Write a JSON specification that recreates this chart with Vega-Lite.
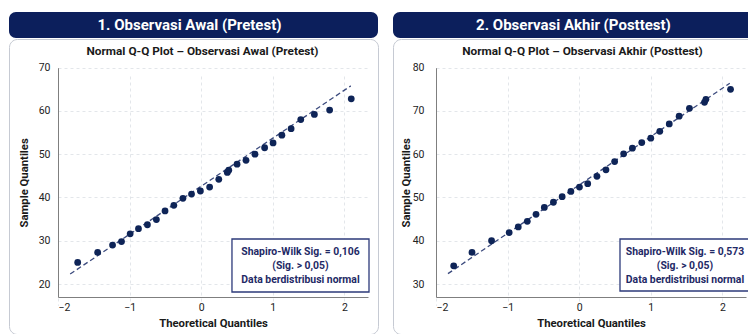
{
  "$schema": "https://vega.github.io/schema/vega-lite/v6.json",
  "padding": {"left": 8, "top": 12, "right": 0, "bottom": 0},
  "background": "white",
  "spacing": 13,
  "config": {"font": "Roboto", "view": {"stroke": null}},
  "datasets": {
    "pre": [
      {"theoretical": -1.725, "sample": 25.0},
      {"theoretical": -1.446, "sample": 27.3},
      {"theoretical": -1.238, "sample": 29.0},
      {"theoretical": -1.113, "sample": 29.8},
      {"theoretical": -0.992, "sample": 31.6},
      {"theoretical": -0.876, "sample": 32.8},
      {"theoretical": -0.751, "sample": 33.7},
      {"theoretical": -0.626, "sample": 34.9},
      {"theoretical": -0.505, "sample": 36.9},
      {"theoretical": -0.382, "sample": 38.2},
      {"theoretical": -0.255, "sample": 39.8},
      {"theoretical": -0.135, "sample": 40.8},
      {"theoretical": -0.011, "sample": 41.5},
      {"theoretical": 0.118, "sample": 42.4},
      {"theoretical": 0.246, "sample": 44.2},
      {"theoretical": 0.365, "sample": 45.8},
      {"theoretical": 0.385, "sample": 46.3},
      {"theoretical": 0.501, "sample": 47.7},
      {"theoretical": 0.626, "sample": 48.6},
      {"theoretical": 0.751, "sample": 50.0},
      {"theoretical": 0.886, "sample": 51.5},
      {"theoretical": 1.004, "sample": 52.6},
      {"theoretical": 1.127, "sample": 54.4},
      {"theoretical": 1.256, "sample": 55.9},
      {"theoretical": 1.391, "sample": 58.0},
      {"theoretical": 1.581, "sample": 59.2},
      {"theoretical": 1.794, "sample": 60.2},
      {"theoretical": 2.096, "sample": 62.8}
    ],
    "pre_fit": [
      {"theoretical": -1.83, "sample": 22.3},
      {"theoretical": 2.09, "sample": 65.8}
    ],
    "post": [
      {"theoretical": -1.753, "sample": 34.2},
      {"theoretical": -1.497, "sample": 37.3},
      {"theoretical": -1.224, "sample": 40.0},
      {"theoretical": -0.978, "sample": 41.9},
      {"theoretical": -0.851, "sample": 43.2},
      {"theoretical": -0.725, "sample": 44.5},
      {"theoretical": -0.603, "sample": 46.1},
      {"theoretical": -0.487, "sample": 47.7},
      {"theoretical": -0.36, "sample": 48.9},
      {"theoretical": -0.238, "sample": 50.2},
      {"theoretical": -0.116, "sample": 51.4},
      {"theoretical": 0.004, "sample": 52.4},
      {"theoretical": 0.119, "sample": 53.2},
      {"theoretical": 0.248, "sample": 54.9},
      {"theoretical": 0.374, "sample": 56.4},
      {"theoretical": 0.495, "sample": 58.3},
      {"theoretical": 0.621, "sample": 60.1},
      {"theoretical": 0.743, "sample": 61.4},
      {"theoretical": 0.874, "sample": 62.7},
      {"theoretical": 1.0, "sample": 63.7},
      {"theoretical": 1.126, "sample": 65.3},
      {"theoretical": 1.258, "sample": 67.0},
      {"theoretical": 1.396, "sample": 68.8},
      {"theoretical": 1.54, "sample": 70.6},
      {"theoretical": 1.75, "sample": 72.0},
      {"theoretical": 1.77, "sample": 72.7},
      {"theoretical": 2.114, "sample": 75.0}
    ],
    "post_fit": [
      {"theoretical": -1.833, "sample": 32.4},
      {"theoretical": 2.104, "sample": 76.4}
    ],
    "pre_note": [{"note": "Shapiro-Wilk Sig. = 0,106\n(Sig. > 0,05)\nData berdistribusi normal", "title": "Normal Q-Q Plot – Observasi Awal (Pretest)"}],
    "post_note": [{"note": "Shapiro-Wilk Sig. = 0,573\n(Sig. > 0,05)\nData berdistribusi normal", "title": "Normal Q-Q Plot – Observasi Akhir (Posttest)"}],
    "pre_head": [{"panel": "1. Observasi Awal (Pretest)"}],
    "post_head": [{"panel": "2. Observasi Akhir (Posttest)"}]
  },
  "hconcat": [
    {
      "vconcat": [
        {
          "width": 369, "height": 26,
          "view": {"fill": "#0c1f5c", "stroke": null, "cornerRadius": 7},
          "data": {"name": "pre_head"},
          "mark": {"type": "text", "color": "white", "fontSize": 15, "fontWeight": "bold", "dx": -4},
          "encoding": {"text": {"field": "panel"}}
        },
        {
          "width": 369, "height": 295,
          "view": {"fill": "white", "stroke": "#c6cad3", "strokeWidth": 1, "cornerRadius": 8},
          "layer": [
            {
              "data": {"name": "pre_fit"},
              "mark": {"type": "line", "strokeDash": [5, 3], "color": "#3b4a7d", "strokeWidth": 1.3},
              "encoding": {
                "x": {"field": "theoretical", "type": "quantitative",
                  "scale": {"domain": [-2, 2.33], "range": [49, 359], "nice": false, "zero": false},
                  "axis": {"title": "Theoretical Quantiles", "values": [-2, -1, 0, 1, 2], "format": "d", "offset": -37, "grid": true, "gridColor": "#dcdfe5", "gridDash": [3, 3], "gridWidth": 0.8, "domainColor": "#7f7f7f", "domainWidth": 1, "ticks": false, "labelPadding": 5, "labelFontSize": 10.5, "labelColor": "#222222", "titleFontSize": 11.3, "titleFontWeight": "bold", "titleColor": "#1a1a1a", "titlePadding": 5}},
                "y": {"field": "sample", "type": "quantitative",
                  "scale": {"domain": [17, 70], "range": [258, 28.7], "nice": false, "zero": false},
                  "axis": {"title": "Sample Quantiles", "values": [20, 30, 40, 50, 60, 70], "format": "d", "offset": -49, "grid": true, "gridColor": "#dcdfe5", "gridDash": [3, 3], "gridWidth": 0.8, "domainColor": "#7f7f7f", "domainWidth": 1, "ticks": false, "labelPadding": 8, "labelFontSize": 10.5, "labelColor": "#222222", "titleFontSize": 11.3, "titleFontWeight": "bold", "titleColor": "#1a1a1a", "titlePadding": 9}}
              }
            },
            {
              "data": {"name": "pre"},
              "mark": {"type": "circle", "size": 46, "color": "#0e2457", "opacity": 1},
              "encoding": {
                "x": {"field": "theoretical", "type": "quantitative"},
                "y": {"field": "sample", "type": "quantitative"}
              }
            },
            {
              "data": {"name": "pre_note"},
              "mark": {"type": "rect", "fill": "white", "stroke": "#2c3a7a", "strokeWidth": 1.3},
              "encoding": {
                "x": {"datum": 0.43, "type": "quantitative"},
                "x2": {"datum": 2.344},
                "y": {"datum": 30.41, "type": "quantitative"},
                "y2": {"datum": 18.16}
              }
            },
            {
              "data": {"name": "pre_note"},
              "mark": {"type": "text", "lineBreak": "\n", "lineHeight": 14.3, "fontSize": 10.4, "fontWeight": "bold", "color": "#1f2a66", "align": "center", "baseline": "middle"},
              "encoding": {
                "x": {"datum": 1.387, "type": "quantitative"},
                "y": {"datum": 27.47, "type": "quantitative"},
                "text": {"field": "note"}
              }
            },
            {
              "data": {"name": "pre_note"},
              "mark": {"type": "text", "fontSize": 11.8, "fontWeight": "bold", "color": "#1a1a1a", "align": "center", "baseline": "middle"},
              "encoding": {
                "x": {"datum": 0.018, "type": "quantitative"},
                "y": {"datum": 73.86, "type": "quantitative"},
                "text": {"field": "title"}
              }
            }
          ]
        }
      ],
      "spacing": 0,
      "align": "none",
      "bounds": "full"
    },
    {
      "vconcat": [
        {
          "width": 369, "height": 26,
          "view": {"fill": "#0c1f5c", "stroke": null, "cornerRadius": 7},
          "data": {"name": "post_head"},
          "mark": {"type": "text", "color": "white", "fontSize": 15, "fontWeight": "bold", "dx": -4},
          "encoding": {"text": {"field": "panel"}}
        },
        {
          "width": 369, "height": 295,
          "view": {"fill": "white", "stroke": "#c6cad3", "strokeWidth": 1, "cornerRadius": 8},
          "layer": [
            {
              "data": {"name": "post_fit"},
              "mark": {"type": "line", "strokeDash": [5, 3], "color": "#3b4a7d", "strokeWidth": 1.3},
              "encoding": {
                "x": {"field": "theoretical", "type": "quantitative",
                  "scale": {"domain": [-2, 2.33], "range": [43, 353], "nice": false, "zero": false},
                  "axis": {"title": "Theoretical Quantiles", "values": [-2, -1, 0, 1, 2], "format": "d", "offset": -37, "grid": true, "gridColor": "#dcdfe5", "gridDash": [3, 3], "gridWidth": 0.8, "domainColor": "#7f7f7f", "domainWidth": 1, "ticks": false, "labelPadding": 5, "labelFontSize": 10.5, "labelColor": "#222222", "titleFontSize": 11.3, "titleFontWeight": "bold", "titleColor": "#1a1a1a", "titlePadding": 5}},
                "y": {"field": "sample", "type": "quantitative",
                  "scale": {"domain": [27, 80], "range": [258, 28.7], "nice": false, "zero": false},
                  "axis": {"title": "Sample Quantiles", "values": [30, 40, 50, 60, 70, 80], "format": "d", "offset": -43, "grid": true, "gridColor": "#dcdfe5", "gridDash": [3, 3], "gridWidth": 0.8, "domainColor": "#7f7f7f", "domainWidth": 1, "ticks": false, "labelPadding": 12, "labelFontSize": 10.5, "labelColor": "#222222", "titleFontSize": 11.3, "titleFontWeight": "bold", "titleColor": "#1a1a1a", "titlePadding": 1}}
              }
            },
            {
              "data": {"name": "post"},
              "mark": {"type": "circle", "size": 46, "color": "#0e2457", "opacity": 1},
              "encoding": {
                "x": {"field": "theoretical", "type": "quantitative"},
                "y": {"field": "sample", "type": "quantitative"}
              }
            },
            {
              "data": {"name": "post_note"},
              "mark": {"type": "rect", "fill": "white", "stroke": "#2c3a7a", "strokeWidth": 1.3},
              "encoding": {
                "x": {"datum": 0.57, "type": "quantitative"},
                "x2": {"datum": 2.386},
                "y": {"datum": 40.41, "type": "quantitative"},
                "y2": {"datum": 28.39}
              }
            },
            {
              "data": {"name": "post_note"},
              "mark": {"type": "text", "lineBreak": "\n", "lineHeight": 14.3, "fontSize": 10.4, "fontWeight": "bold", "color": "#1f2a66", "align": "center", "baseline": "middle"},
              "encoding": {
                "x": {"datum": 1.478, "type": "quantitative"},
                "y": {"datum": 37.47, "type": "quantitative"},
                "text": {"field": "note"}
              }
            },
            {
              "data": {"name": "post_note"},
              "mark": {"type": "text", "fontSize": 11.8, "fontWeight": "bold", "color": "#1a1a1a", "align": "center", "baseline": "middle"},
              "encoding": {
                "x": {"datum": 0.046, "type": "quantitative"},
                "y": {"datum": 83.86, "type": "quantitative"},
                "text": {"field": "title"}
              }
            }
          ]
        }
      ],
      "spacing": 0,
      "align": "none",
      "bounds": "full"
    }
  ]
}
